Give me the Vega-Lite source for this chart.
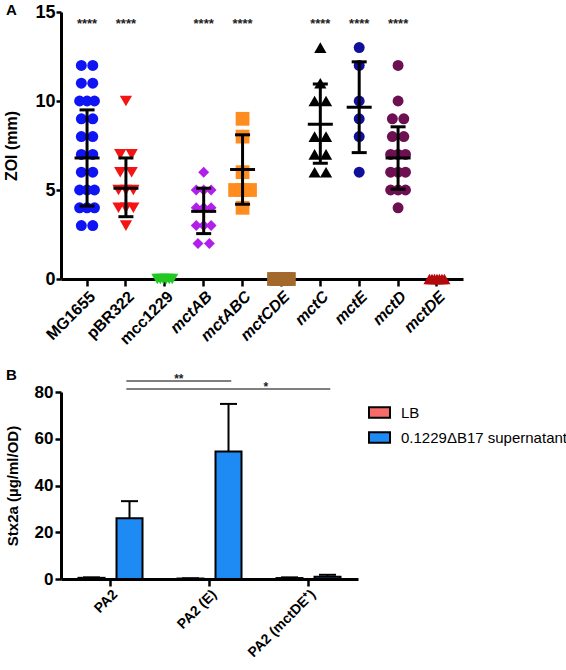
{
  "$schema": "https://vega.github.io/schema/vega-lite/v6.json",
  "padding": {"left": 3, "top": 3, "right": 0, "bottom": 0},
  "spacing": 19,
  "resolve": {"scale": {"color": "independent", "shape": "independent"}, "legend": {"color": "independent", "shape": "independent"}},
  "config": {
    "view": {"stroke": null},
    "font": "Liberation Sans",
    "axis": {"domainColor": "black", "domainWidth": 3, "tickColor": "black", "tickWidth": 2.5, "tickSize": 7, "labelColor": "black", "labelFontWeight": "bold", "titleFontWeight": "bold", "titleColor": "black", "grid": false}
  },
  "datasets": {
    "pts": [
      {"strain": "MG1655", "zoi": 12}, {"strain": "MG1655", "zoi": 12}, {"strain": "MG1655", "zoi": 11}, {"strain": "MG1655", "zoi": 11},
      {"strain": "MG1655", "zoi": 10}, {"strain": "MG1655", "zoi": 10}, {"strain": "MG1655", "zoi": 10}, {"strain": "MG1655", "zoi": 9},
      {"strain": "MG1655", "zoi": 9}, {"strain": "MG1655", "zoi": 8}, {"strain": "MG1655", "zoi": 8}, {"strain": "MG1655", "zoi": 7},
      {"strain": "MG1655", "zoi": 7}, {"strain": "MG1655", "zoi": 6}, {"strain": "MG1655", "zoi": 6}, {"strain": "MG1655", "zoi": 5},
      {"strain": "MG1655", "zoi": 5}, {"strain": "MG1655", "zoi": 5}, {"strain": "MG1655", "zoi": 4}, {"strain": "MG1655", "zoi": 4},
      {"strain": "MG1655", "zoi": 4}, {"strain": "MG1655", "zoi": 3}, {"strain": "MG1655", "zoi": 3},
      {"strain": "pBR322", "zoi": 10}, {"strain": "pBR322", "zoi": 7}, {"strain": "pBR322", "zoi": 7}, {"strain": "pBR322", "zoi": 6},
      {"strain": "pBR322", "zoi": 6}, {"strain": "pBR322", "zoi": 5}, {"strain": "pBR322", "zoi": 5}, {"strain": "pBR322", "zoi": 5},
      {"strain": "pBR322", "zoi": 4}, {"strain": "pBR322", "zoi": 4}, {"strain": "pBR322", "zoi": 4}, {"strain": "pBR322", "zoi": 3},
      {"strain": "mcc1229", "zoi": 0}, {"strain": "mcc1229", "zoi": 0}, {"strain": "mcc1229", "zoi": 0}, {"strain": "mcc1229", "zoi": 0},
      {"strain": "mcc1229", "zoi": 0}, {"strain": "mcc1229", "zoi": 0},
      {"strain": "mctAB", "zoi": 6}, {"strain": "mctAB", "zoi": 5}, {"strain": "mctAB", "zoi": 5}, {"strain": "mctAB", "zoi": 5},
      {"strain": "mctAB", "zoi": 4}, {"strain": "mctAB", "zoi": 4}, {"strain": "mctAB", "zoi": 4}, {"strain": "mctAB", "zoi": 3},
      {"strain": "mctAB", "zoi": 3}, {"strain": "mctAB", "zoi": 3}, {"strain": "mctAB", "zoi": 2}, {"strain": "mctAB", "zoi": 2},
      {"strain": "mctABC", "zoi": 9}, {"strain": "mctABC", "zoi": 8}, {"strain": "mctABC", "zoi": 6}, {"strain": "mctABC", "zoi": 5},
      {"strain": "mctABC", "zoi": 5}, {"strain": "mctABC", "zoi": 5}, {"strain": "mctABC", "zoi": 4},
      {"strain": "mctCDE", "zoi": 0}, {"strain": "mctCDE", "zoi": 0}, {"strain": "mctCDE", "zoi": 0}, {"strain": "mctCDE", "zoi": 0},
      {"strain": "mctCDE", "zoi": 0}, {"strain": "mctCDE", "zoi": 0},
      {"strain": "mctC", "zoi": 13}, {"strain": "mctC", "zoi": 11}, {"strain": "mctC", "zoi": 10}, {"strain": "mctC", "zoi": 10},
      {"strain": "mctC", "zoi": 8}, {"strain": "mctC", "zoi": 8}, {"strain": "mctC", "zoi": 7}, {"strain": "mctC", "zoi": 7},
      {"strain": "mctC", "zoi": 6}, {"strain": "mctC", "zoi": 6},
      {"strain": "mctE", "zoi": 13}, {"strain": "mctE", "zoi": 12}, {"strain": "mctE", "zoi": 10}, {"strain": "mctE", "zoi": 9},
      {"strain": "mctE", "zoi": 8}, {"strain": "mctE", "zoi": 6},
      {"strain": "mctD", "zoi": 12}, {"strain": "mctD", "zoi": 10}, {"strain": "mctD", "zoi": 9}, {"strain": "mctD", "zoi": 9},
      {"strain": "mctD", "zoi": 8}, {"strain": "mctD", "zoi": 8}, {"strain": "mctD", "zoi": 7}, {"strain": "mctD", "zoi": 7},
      {"strain": "mctD", "zoi": 7}, {"strain": "mctD", "zoi": 6}, {"strain": "mctD", "zoi": 6}, {"strain": "mctD", "zoi": 6},
      {"strain": "mctD", "zoi": 5}, {"strain": "mctD", "zoi": 5}, {"strain": "mctD", "zoi": 5}, {"strain": "mctD", "zoi": 4},
      {"strain": "mctDE", "zoi": 0}, {"strain": "mctDE", "zoi": 0}, {"strain": "mctDE", "zoi": 0}, {"strain": "mctDE", "zoi": 0},
      {"strain": "mctDE", "zoi": 0}, {"strain": "mctDE", "zoi": 0}, {"strain": "mctDE", "zoi": 0}
    ],
    "summ": [
      {"strain": "MG1655", "mean": 6.8, "lo": 4.1, "hi": 9.5},
      {"strain": "pBR322", "mean": 5.1, "lo": 3.5, "hi": 6.8},
      {"strain": "mctAB", "mean": 3.8, "lo": 2.55, "hi": 5.1},
      {"strain": "mctABC", "mean": 6.15, "lo": 4.2, "hi": 8.1},
      {"strain": "mctC", "mean": 8.7, "lo": 6.5, "hi": 10.95},
      {"strain": "mctE", "mean": 9.65, "lo": 7.1, "hi": 12.2},
      {"strain": "mctD", "mean": 6.8, "lo": 5.05, "hi": 8.55}
    ],
    "stars": [
      {"strain": "MG1655", "y": 14.3, "label": "****"},
      {"strain": "pBR322", "y": 14.3, "label": "****"},
      {"strain": "mctAB", "y": 14.3, "label": "****"},
      {"strain": "mctABC", "y": 14.3, "label": "****"},
      {"strain": "mctC", "y": 14.3, "label": "****"},
      {"strain": "mctE", "y": 14.3, "label": "****"},
      {"strain": "mctD", "y": 14.3, "label": "****"}
    ],
    "bars": [
      {"group": "PA2", "cond": "LB", "value": 0.5, "hi": 0.7},
      {"group": "PA2", "cond": "0.1229ΔB17 supernatant", "value": 26, "hi": 33.3},
      {"group": "PA2 (E)", "cond": "LB", "value": 0.2, "hi": 0.3},
      {"group": "PA2 (E)", "cond": "0.1229ΔB17 supernatant", "value": 54.5, "hi": 74.9},
      {"group": "PA2 (mctDE⁺)", "cond": "LB", "value": 0.4, "hi": 0.7},
      {"group": "PA2 (mctDE⁺)", "cond": "0.1229ΔB17 supernatant", "value": 1.0, "hi": 1.8}
    ],
    "sig": [
      {"from": "PA2", "to": "PA2 (E)", "y": 84.7, "ty": 85.6, "label": "**"},
      {"from": "PA2", "to": "PA2 (mctDE⁺)", "y": 81.3, "ty": 82.2, "label": "*"}
    ]
  },
  "vconcat": [
    {
      "width": 402,
      "height": 267,
      "title": {"text": "A", "anchor": "start", "frame": "group", "fontSize": 15, "fontWeight": "bold", "color": "black", "dx": -55, "dy": 15, "offset": 0},
      "layer": [
        {
          "data": {"name": "pts"},
          "transform": [
            {"window": [{"op": "row_number", "as": "rk"}], "groupby": ["strain", "zoi"]},
            {"joinaggregate": [{"op": "count", "as": "n"}], "groupby": ["strain", "zoi"]},
            {"calculate": "(datum.rk - (datum.n + 1) / 2) * min(1, 1.3 / max(1, datum.n - 1))", "as": "off"}
          ],
          "mark": {"type": "point", "filled": true, "opacity": 1},
          "encoding": {
            "x": {"field": "strain", "type": "nominal",
              "scale": {"type": "band", "domain": ["MG1655", "pBR322", "mcc1229", "mctAB", "mctABC", "mctCDE", "mctC", "mctE", "mctD", "mctDE"], "paddingInner": 0, "paddingOuter": 0.17},
              "axis": {"title": null, "labelAngle": -45, "labelAlign": "right", "labelBaseline": "top", "labelFontSize": 16, "labelPadding": 2,
                "labelFontStyle": {"condition": {"test": "indexof(datum.value, 'mct') === 0", "value": "italic"}, "value": "normal"}}},
            "xOffset": {"field": "off", "type": "quantitative", "scale": {"domain": [-1.7, 1.7]}},
            "y": {"field": "zoi", "type": "quantitative", "scale": {"domain": [0, 15], "nice": false},
              "axis": {"values": [0, 5, 10, 15], "title": "ZOI (mm)", "titleFontSize": 16, "labelFontSize": 18, "titlePadding": 15, "labelPadding": 1, "tickSize": 5}},
            "color": {"field": "strain", "type": "nominal", "legend": null,
              "scale": {"domain": ["MG1655", "pBR322", "mcc1229", "mctAB", "mctABC", "mctCDE", "mctC", "mctE", "mctD", "mctDE"],
                "range": ["#0F14F5", "#F51414", "#22C822", "#B020E8", "#FF8C1E", "#A3682C", "#000000", "#10109A", "#6D1052", "#B20A0A"]}},
            "shape": {"field": "strain", "type": "nominal", "legend": null,
              "scale": {"domain": ["MG1655", "pBR322", "mcc1229", "mctAB", "mctABC", "mctCDE", "mctC", "mctE", "mctD", "mctDE"],
                "range": ["circle", "triangle-down", "triangle-down", "diamond", "square", "square", "triangle-up", "circle", "circle", "triangle-up"]}},
            "size": {"condition": [
              {"test": "datum.strain === 'mctABC' || datum.strain === 'mctCDE'", "value": 190},
              {"test": "datum.strain === 'pBR322' || datum.strain === 'mcc1229' || datum.strain === 'mctC' || datum.strain === 'mctDE'", "value": 150}
            ], "value": 120}
          }
        },
        {
          "data": {"name": "summ"},
          "mark": {"type": "rule", "color": "black", "strokeWidth": 3},
          "encoding": {
            "x": {"field": "strain", "type": "nominal"},
            "y": {"field": "lo", "type": "quantitative", "scale": {"domain": [0, 15], "nice": false}},
            "y2": {"field": "hi"}
          }
        },
        {
          "data": {"name": "summ"},
          "mark": {"type": "tick", "color": "black", "thickness": 3, "size": 25, "opacity": 1},
          "encoding": {"x": {"field": "strain", "type": "nominal"}, "y": {"field": "mean", "type": "quantitative", "scale": {"domain": [0, 15], "nice": false}}}
        },
        {
          "data": {"name": "summ"},
          "mark": {"type": "tick", "color": "black", "thickness": 3, "size": 15, "opacity": 1},
          "encoding": {"x": {"field": "strain", "type": "nominal"}, "y": {"field": "lo", "type": "quantitative", "scale": {"domain": [0, 15], "nice": false}}}
        },
        {
          "data": {"name": "summ"},
          "mark": {"type": "tick", "color": "black", "thickness": 3, "size": 15, "opacity": 1},
          "encoding": {"x": {"field": "strain", "type": "nominal"}, "y": {"field": "hi", "type": "quantitative", "scale": {"domain": [0, 15], "nice": false}}}
        },
        {
          "data": {"name": "stars"},
          "mark": {"type": "text", "fontSize": 13, "fontWeight": "bold", "color": "#222222", "baseline": "middle", "align": "center"},
          "encoding": {"x": {"field": "strain", "type": "nominal"}, "y": {"field": "y", "type": "quantitative", "scale": {"domain": [0, 15], "nice": false}}, "text": {"field": "label"}}
        }
      ]
    },
    {
      "width": 297,
      "height": 187,
      "title": {"text": "B", "anchor": "start", "frame": "group", "fontSize": 15, "fontWeight": "bold", "color": "black", "dx": -55, "dy": 10, "offset": 0},
      "layer": [
        {
          "data": {"name": "bars"},
          "mark": {"type": "bar", "stroke": "black", "strokeWidth": 2},
          "encoding": {
            "x": {"field": "group", "type": "nominal",
              "scale": {"domain": ["PA2", "PA2 (E)", "PA2 (mctDE⁺)"], "paddingInner": 0, "paddingOuter": 0},
              "axis": {"title": null, "labelAngle": -45, "labelAlign": "right", "labelBaseline": "top", "labelFontSize": 14, "labelPadding": 1}},
            "xOffset": {"field": "cond", "type": "nominal", "scale": {"domain": ["LB", "0.1229ΔB17 supernatant"], "paddingInner": 0.316, "paddingOuter": 0.46}},
            "y": {"field": "value", "type": "quantitative", "scale": {"domain": [0, 80], "nice": false},
              "axis": {"values": [0, 20, 40, 60, 80], "title": "Stx2a (µg/ml/OD)", "titleFontSize": 15, "labelFontSize": 17, "titlePadding": 14, "labelPadding": 2, "tickSize": 6}},
            "color": {"field": "cond", "type": "nominal",
              "scale": {"domain": ["LB", "0.1229ΔB17 supernatant"], "range": ["#F86B6B", "#1E8BF5"]},
              "legend": {"title": null, "orient": "none", "legendX": 307, "legendY": 9, "symbolType": "M-1,-0.5H1V0.5H-1Z", "symbolSize": 441,
                "symbolStrokeColor": "black", "symbolStrokeWidth": 2, "symbolOpacity": 1, "labelFontSize": 15, "labelFontWeight": "normal", "labelColor": "black", "labelOffset": 10, "labelLimit": 300, "rowPadding": 4}}
          }
        },
        {
          "data": {"name": "bars"},
          "mark": {"type": "rule", "color": "black", "strokeWidth": 2},
          "encoding": {
            "x": {"field": "group", "type": "nominal"},
            "xOffset": {"field": "cond", "type": "nominal"},
            "y": {"field": "value", "type": "quantitative", "scale": {"domain": [0, 80], "nice": false}},
            "y2": {"field": "hi"}
          }
        },
        {
          "data": {"name": "bars"},
          "mark": {"type": "tick", "color": "black", "thickness": 2, "size": 17, "opacity": 1},
          "encoding": {
            "x": {"field": "group", "type": "nominal"},
            "xOffset": {"field": "cond", "type": "nominal"},
            "y": {"field": "hi", "type": "quantitative", "scale": {"domain": [0, 80], "nice": false}}
          }
        },
        {
          "data": {"name": "sig"},
          "mark": {"type": "rule", "color": "#555555", "strokeWidth": 1.5},
          "encoding": {
            "x": {"field": "from", "type": "nominal", "bandPosition": 0.66},
            "x2": {"field": "to", "bandPosition": 0.72},
            "y": {"field": "y", "type": "quantitative", "scale": {"domain": [0, 80], "nice": false}}
          }
        },
        {
          "data": {"name": "sig"},
          "transform": [{"filter": "datum.label === '**'"}],
          "mark": {"type": "text", "fontSize": 12, "fontWeight": "bold", "color": "#222222", "baseline": "middle", "align": "center"},
          "encoding": {
            "x": {"field": "to", "type": "nominal", "bandPosition": 0.19},
            "y": {"field": "ty", "type": "quantitative", "scale": {"domain": [0, 80], "nice": false}},
            "text": {"field": "label"}
          }
        },
        {
          "data": {"name": "sig"},
          "transform": [{"filter": "datum.label === '*'"}],
          "mark": {"type": "text", "fontSize": 12, "fontWeight": "bold", "color": "#222222", "baseline": "middle", "align": "center"},
          "encoding": {
            "x": {"field": "to", "type": "nominal", "bandPosition": 0.07},
            "y": {"field": "ty", "type": "quantitative", "scale": {"domain": [0, 80], "nice": false}},
            "text": {"field": "label"}
          }
        }
      ]
    }
  ]
}
